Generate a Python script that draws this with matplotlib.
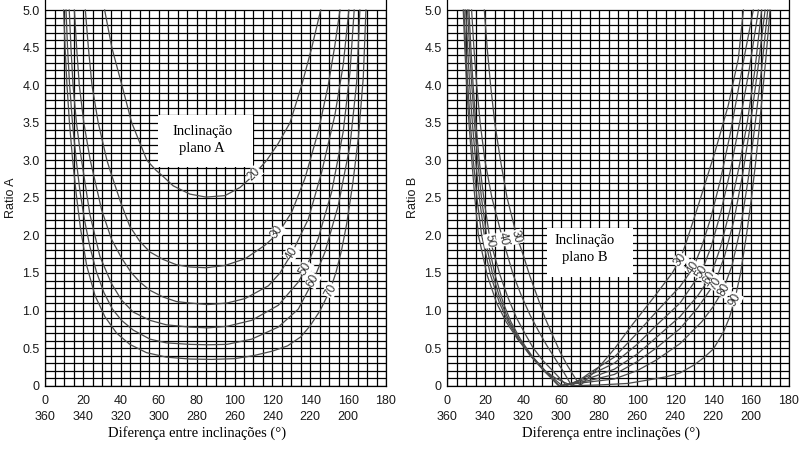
import matplotlib
matplotlib.use("Agg")
import matplotlib.pyplot as plt
from matplotlib.patches import Rectangle
import numpy as np

# ---------------- Ratio A curves (dip of plane A) ----------------
A20_X = [31.4, 35.2, 40.5, 45.7, 53.7, 58.4, 62.5, 67.6, 76.4, 85.0, 95.0, 103.0, 110.0,
         117.0, 123.0, 129.3, 135.5, 140.8, 145.5]
A20_Y = [5.0, 4.5, 4.0, 3.5, 3.0, 2.87, 2.78, 2.66, 2.55, 2.51, 2.53, 2.64, 2.80,
         3.0, 3.22, 3.5, 4.0, 4.5, 5.0]

A30_X = [21.2, 22.8, 24.7, 28.0, 32.6, 34.2, 40.0, 44.7, 50.0, 55.3, 62.3, 69.3, 76.4,
         85.0, 95.0, 105.6, 116.1, 123.1, 130.2, 137.2, 144.2, 149.5, 153.0, 155.7]
A30_Y = [5.0, 4.5, 4.0, 3.5, 3.0, 2.87, 2.43, 2.12, 1.92, 1.78, 1.68, 1.61, 1.58,
         1.57, 1.60, 1.69, 1.87, 2.03, 2.31, 2.76, 3.38, 4.0, 4.53, 5.0]

A40_X = [15.4, 16.6, 18.0, 20.4, 23.8, 25.0, 29.8, 35.0, 40.3, 45.6, 50.0, 55.3, 62.3,
         69.3, 76.4, 86.0, 96.0, 105.6, 117.9, 124.0, 130.2, 139.0, 146.0, 153.0, 157.4, 160.4]
A40_Y = [5.0, 4.5, 4.0, 3.5, 3.0, 2.87, 2.34, 1.95, 1.70, 1.50, 1.38, 1.27, 1.18,
         1.12, 1.10, 1.08, 1.10, 1.16, 1.33, 1.50, 1.76, 2.22, 2.84, 3.6, 4.27, 5.0]

A50_X = [12.7, 13.6, 14.7, 16.5, 18.3, 20.3, 23.6, 28.9, 35.0, 40.3, 46.5, 55.3, 64.0,
         76.4, 86.0, 96.0, 109.1, 123.1, 133.7, 137.7, 144.2, 151.3, 157.4, 161.0, 163.2]
A50_Y = [5.0, 4.5, 4.0, 3.5, 3.15, 2.82, 2.28, 1.72, 1.36, 1.14, 0.98, 0.87, 0.81,
         0.78, 0.77, 0.79, 0.87, 1.07, 1.38, 1.56, 1.96, 2.58, 3.38, 4.18, 5.0]

A60_X = [11.0, 11.8, 12.9, 14.4, 16.4, 18.3, 20.8, 23.6, 27.0, 31.0, 35.5, 40.3, 46.5,
         55.3, 64.0, 76.4, 86.0, 96.0, 109.1, 123.1, 133.7, 141.6, 147.8, 154.8, 161.0,
         164.5, 166.2]
A60_Y = [5.0, 4.5, 4.0, 3.5, 3.0, 2.6, 2.2, 1.85, 1.52, 1.24, 1.02, 0.87, 0.74,
         0.62, 0.57, 0.55, 0.545, 0.55, 0.62, 0.78, 1.02, 1.40, 1.78, 2.4, 3.2,
         4.04, 5.0]

A70_X = [9.75, 10.5, 11.5, 12.8, 14.5, 16.4, 18.6, 21.9, 26.3, 31.5, 37.7, 44.7, 53.5,
         64.0, 76.4, 88.0, 100.0, 110.0, 120.0, 128.0, 135.0, 140.0, 145.2, 150.4, 153.5,
         156.5, 159.2, 162.5, 165.4, 168.0, 169.4]
A70_Y = [5.0, 4.5, 4.0, 3.5, 3.0, 2.55, 2.1, 1.6, 1.2, 0.92, 0.70, 0.55, 0.44,
         0.38, 0.355, 0.35, 0.36, 0.40, 0.46, 0.53, 0.65, 0.80, 1.0, 1.27, 1.5,
         1.8, 2.15, 2.7, 3.3, 4.1, 5.0]

# ---------------- Ratio B curves (dip of plane B) ----------------
B30_X = [19.5, 21.0, 22.8, 25.0, 28.0, 31.5, 36.5, 40.5, 43.6, 47.5, 51.5, 55.5, 59.4,
         63.0, 66.4, 70.0, 80.0, 88.0, 98.0, 108.6, 118.5, 122.6, 125.5, 132.2, 141.0,
         148.0, 153.3, 156.0]
B30_Y = [5.0, 4.5, 4.0, 3.5, 3.0, 2.5, 2.0, 1.7, 1.45, 1.18, 0.9, 0.67, 0.45,
         0.28, 0.14, 0.0, 0.25, 0.49, 0.83, 1.17, 1.5, 1.68, 1.88, 2.4, 3.11,
         3.73, 4.35, 5.0]

B40_X = [12.8, 14.0, 15.5, 17.3, 19.8, 23.5, 29.2, 34.8, 39.0, 43.6, 48.0, 52.3, 56.8,
         61.1, 65.5, 75.0, 88.0, 100.0, 110.0, 122.6, 129.6, 134.0, 139.0, 144.0, 149.0,
         153.0, 157.0, 161.2]
B40_Y = [5.0, 4.5, 4.0, 3.5, 3.0, 2.5, 1.95, 1.47, 1.2, 0.94, 0.73, 0.54, 0.36,
         0.19, 0.0, 0.17, 0.38, 0.7, 0.98, 1.32, 1.57, 1.85, 2.25, 2.75, 3.35,
         3.9, 4.45, 5.0]

B50_X = [11.4, 12.4, 13.6, 15.0, 16.8, 19.2, 22.5, 27.8, 32.0, 36.5, 41.0, 45.3, 50.5,
         55.9, 62.9, 75.0, 88.0, 100.0, 110.0, 122.6, 134.0, 139.0, 144.0, 149.0, 154.0,
         159.0, 163.9]
B50_Y = [5.0, 4.5, 4.0, 3.5, 3.0, 2.5, 1.94, 1.47, 1.17, 0.9, 0.69, 0.5, 0.33,
         0.19, 0.0, 0.14, 0.3, 0.55, 0.8, 1.10, 1.52, 1.85, 2.3, 2.85, 3.5,
         4.2, 5.0]

B60_X = [10.7, 11.7, 12.9, 14.3, 16.0, 18.0, 20.7, 25.2, 29.5, 33.5, 38.5, 44.5, 51.5,
         55.8, 60.5, 75.0, 88.0, 100.0, 110.0, 122.6, 132.0, 138.4, 144.0, 149.0, 154.0,
         158.0, 162.0, 165.6]
B60_Y = [5.0, 4.5, 4.0, 3.5, 3.0, 2.5, 2.0, 1.47, 1.1, 0.85, 0.62, 0.4, 0.2,
         0.1, 0.0, 0.1, 0.22, 0.42, 0.64, 0.92, 1.2, 1.44, 1.85, 2.35, 2.95,
         3.5, 4.2, 5.0]

B70_X = [9.7, 10.7, 11.8, 13.2, 14.9, 16.9, 19.5, 24.0, 28.5, 32.7, 37.8, 44.0, 51.0,
         55.0, 59.0, 75.0, 88.0, 100.0, 110.0, 122.6, 132.0, 141.0, 146.0, 151.0, 155.5,
         159.5, 163.5, 167.4]
B70_Y = [5.0, 4.5, 4.0, 3.5, 3.0, 2.5, 2.0, 1.47, 1.1, 0.85, 0.62, 0.4, 0.2,
         0.1, 0.0, 0.07, 0.15, 0.32, 0.5, 0.76, 1.04, 1.37, 1.72, 2.2, 2.8,
         3.45, 4.2, 5.0]

B80_X = [8.8, 9.7, 10.8, 12.1, 13.7, 15.6, 18.1, 22.8, 27.5, 32.0, 37.3, 43.7, 50.8,
         54.8, 58.5, 75.0, 88.0, 100.0, 110.0, 122.6, 134.0, 140.0, 145.4, 150.0, 154.5,
         158.5, 162.0, 165.5, 168.8]
B80_Y = [5.0, 4.5, 4.0, 3.5, 3.0, 2.5, 2.0, 1.47, 1.1, 0.85, 0.62, 0.4, 0.2,
         0.1, 0.0, 0.05, 0.09, 0.2, 0.34, 0.56, 0.85, 1.05, 1.28, 1.6, 2.1,
         2.75, 3.45, 4.2, 5.0]

B90_X = [8.4, 9.2, 10.2, 11.4, 12.9, 14.5, 16.4, 21.0, 26.0, 31.0, 37.0, 44.0, 51.5,
         57.0, 62.0, 66.0, 80.0, 95.0, 106.8, 115.6, 122.6, 129.6, 135.0, 140.2, 145.4,
         148.5, 151.5, 154.5, 157.8, 160.0, 162.2, 164.0, 165.7, 167.8, 170.0]
B90_Y = [5.0, 4.5, 4.0, 3.5, 3.0, 2.5, 2.0, 1.47, 1.1, 0.85, 0.62, 0.4, 0.2,
         0.1, 0.04, 0.0, 0.01, 0.03, 0.08, 0.12, 0.17, 0.27, 0.37, 0.49, 0.71,
         0.9, 1.15, 1.5, 2.04, 2.45, 2.92, 3.35, 3.8, 4.35, 5.0]

CURVES_A = [(A20_X, A20_Y), (A30_X, A30_Y), (A40_X, A40_Y),
            (A50_X, A50_Y), (A60_X, A60_Y), (A70_X, A70_Y)]
CURVES_B = [(B30_X, B30_Y), (B40_X, B40_Y), (B50_X, B50_Y), (B60_X, B60_Y),
            (B70_X, B70_Y), (B80_X, B80_Y), (B90_X, B90_Y)]

# curve labels: text, x, y, rotation
LABELS_A = [("20", 110.5, 2.82, 45), ("30", 122.6, 2.05, 55), ("40", 130.0, 1.76, 57),
            ("50", 137.4, 1.56, 60), ("60", 141.4, 1.40, 62), ("70", 150.6, 1.27, 62)]
LABELS_B = [("30", 122.6, 1.67, 52), ("40", 129.4, 1.57, 55), ("50", 133.8, 1.51, 57),
            ("60", 138.2, 1.43, 58), ("70", 141.4, 1.36, 58), ("80", 145.6, 1.27, 60),
            ("90", 151.6, 1.14, 62),
            ("50", 22.5, 1.93, -80), ("40", 29.3, 1.95, -78), ("30", 36.5, 1.98, -75)]

X_TICKS = list(range(0, 181, 20))
Y_TICKS = [0, 0.5, 1.0, 1.5, 2.0, 2.5, 3.0, 3.5, 4.0, 4.5, 5.0]
Y_TICKLABELS = ["0", "0.5", "1.0", "1.5", "2.0", "2.5", "3.0", "3.5", "4.0", "4.5", "5.0"]

SANS = "Liberation Sans"
SERIF = "Liberation Serif"
CURVE_COLOR = "#4a4a4a"


def setup_panel(ax, ylabel, xlabel_x):
    ax.set_xlim(0, 180)
    ax.set_ylim(0, 5.0 + 10 / 75.1)
    # the printed grid: 5 degree columns, 0.1 rows
    ax.vlines(np.arange(0, 181, 5), 0, 5, colors="black", lw=0.9, zorder=1)
    ax.hlines(np.arange(0, 5.001, 0.1), 0, 180, colors="black", lw=0.9, zorder=1)
    for side in ["left", "right", "bottom"]:
        ax.spines[side].set_linewidth(0.9)
        ax.spines[side].set_color("black")
    ax.spines["top"].set_visible(False)

    ax.set_xticks(X_TICKS)
    ax.set_xticklabels([f"{v}\n{360 - v}" if v < 180 else "180" for v in X_TICKS],
                       fontfamily=SANS, fontsize=9, color="#1a1a1a", linespacing=1.37)
    ax.set_yticks(Y_TICKS)
    ax.set_yticklabels(Y_TICKLABELS, fontfamily=SANS, fontsize=9, color="#1a1a1a")
    ax.tick_params(axis="both", length=0)
    ax.tick_params(axis="x", pad=7)
    ax.tick_params(axis="y", pad=4)

    ax.set_ylabel(ylabel, fontfamily=SANS, fontsize=9, color="#1a1a1a")
    ax.yaxis.set_label_coords(-0.100, 0.487)
    ax.yaxis.label.set_va("center")
    ax.set_xlabel("Diferença entre inclinações (°)", fontfamily=SERIF, fontsize=10.5,
                  color="black")
    ax.xaxis.set_label_coords(xlabel_x, -0.122)
    ax.xaxis.label.set_va("center")


def draw_curves(ax, curves, labels):
    for xs, ys in curves:
        ax.plot(xs, ys, color=CURVE_COLOR, lw=0.9, zorder=4, solid_joinstyle="round")
    for txt, x, y, rot in labels:
        ax.text(x, y, txt, rotation=rot, rotation_mode="anchor", ha="center",
                va="center", fontfamily=SANS, fontsize=8.5, color="#333333", zorder=5,
                bbox=dict(facecolor="white", edgecolor="none", pad=0.3))


def text_box(ax, x0, y0, w, h, tx, ty, txt):
    ax.add_patch(Rectangle((x0, y0), w, h, facecolor="white", edgecolor="none", zorder=3))
    ax.text(tx, ty, txt, ha="center", va="center", fontfamily=SERIF, fontsize=10.5,
            linespacing=1.45, zorder=6)


fig = plt.figure(figsize=(8.09, 4.49), dpi=100)
ax_a = fig.add_axes([45.2 / 809, 1 - 385.7 / 449, 340.8 / 809, 385.7 / 449])
ax_b = fig.add_axes([447.3 / 809, 1 - 385.7 / 449, 341.7 / 809, 385.7 / 449])

setup_panel(ax_a, "Ratio A", 0.445)
setup_panel(ax_b, "Ratio B", 0.478)

draw_curves(ax_a, CURVES_A, LABELS_A)
draw_curves(ax_b, CURVES_B, LABELS_B)

text_box(ax_a, 59.5, 2.91, 50.1, 0.69, 83.0, 3.27, "Inclinação\nplano A")
text_box(ax_b, 52.4, 1.45, 45.6, 0.65, 72.5, 1.82, "Inclinação\nplano B")

fig.savefig("out.png", dpi=100)
